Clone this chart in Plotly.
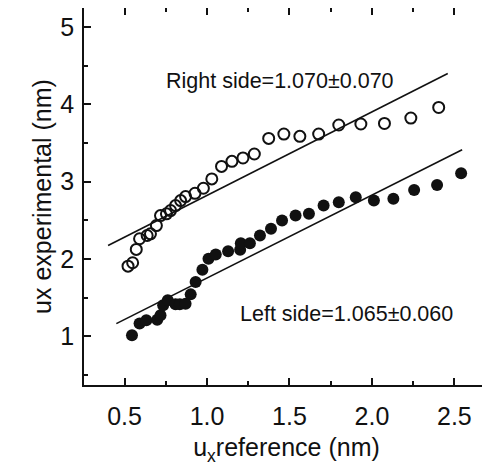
import plotly.graph_objects as go

# Right side (open circles)
right_x = [0.521, 0.549, 0.571, 0.591, 0.637, 0.657, 0.693, 0.718, 0.754, 0.779,
           0.809, 0.840, 0.870, 0.927, 0.978, 1.029, 1.088, 1.151, 1.218, 1.287,
           1.374, 1.466, 1.563, 1.677, 1.799, 1.933, 2.076, 2.236, 2.405]
right_y = [1.907, 1.951, 2.123, 2.261, 2.303, 2.325, 2.432, 2.561, 2.583, 2.626,
           2.690, 2.755, 2.806, 2.849, 2.914, 3.035, 3.197, 3.262, 3.306, 3.357,
           3.559, 3.615, 3.585, 3.615, 3.732, 3.745, 3.752, 3.822, 3.959]

# Left side (filled circles)
left_x = [0.545, 0.591, 0.632, 0.698, 0.718, 0.734, 0.762, 0.809, 0.835, 0.870,
          0.901, 0.931, 0.972, 1.009, 1.053, 1.128, 1.201, 1.205, 1.260, 1.321,
          1.388, 1.455, 1.537, 1.618, 1.707, 1.799, 1.902, 2.012, 2.130, 2.256,
          2.395, 2.541]
left_y = [1.013, 1.164, 1.206, 1.215, 1.271, 1.400, 1.465, 1.413, 1.413, 1.422,
          1.542, 1.701, 1.861, 2.003, 2.058, 2.101, 2.119, 2.204, 2.204, 2.303,
          2.390, 2.497, 2.561, 2.583, 2.690, 2.733, 2.797, 2.755, 2.777, 2.893,
          2.957, 3.107]

# Fit lines
right_fit_x = [0.40, 2.46]
right_fit_y = [2.174, 4.397]
left_fit_x = [0.45, 2.547]
left_fit_y = [1.164, 3.413]

x_tickvals = [0.5, 1.0, 1.5, 2.0, 2.5]
x_ticktext = ["0.5", "1.0", "1.5", "2.0", "2.5"]
y_tickvals = [1, 2, 3, 4, 5]
y_ticktext = ["1", "2", "3", "4", "5"]

FONT = "Liberation Sans, Arial, sans-serif"
INK = "#111111"

fig = go.Figure()
fig.add_trace(go.Scatter(x=right_fit_x, y=right_fit_y, mode="lines",
                         line=dict(color=INK, width=1.6), showlegend=False))
fig.add_trace(go.Scatter(x=left_fit_x, y=left_fit_y, mode="lines",
                         line=dict(color=INK, width=1.6), showlegend=False))
fig.add_trace(go.Scatter(x=right_x, y=right_y, mode="markers",
                         marker=dict(symbol="circle-open", size=11, color=INK,
                                     line=dict(width=2, color=INK)),
                         showlegend=False))
fig.add_trace(go.Scatter(x=left_x, y=left_y, mode="markers",
                         marker=dict(symbol="circle", size=12, color=INK,
                                     line=dict(width=0)),
                         showlegend=False))

fig.add_annotation(x=1.443, y=4.303, text="Right side=1.070±0.070", showarrow=False,
                   font=dict(family=FONT, size=21.5, color=INK))
fig.add_annotation(x=1.846, y=1.293, text="Left side=1.065±0.060", showarrow=False,
                   font=dict(family=FONT, size=21.5, color=INK))

axis_common = dict(showline=True, linewidth=1.5, linecolor=INK, mirror="allticks",
                   ticks="inside", ticklen=7, tickwidth=1.5, tickcolor=INK,
                   showgrid=False, zeroline=False, automargin=False,
                   tickfont=dict(family=FONT, size=25, color=INK))

fig.update_xaxes(range=[0.254, 2.71], tickvals=x_tickvals, ticktext=x_ticktext,
                 minor=dict(dtick=0.25, tick0=0.25, ticks="inside", ticklen=4,
                            tickwidth=1.5, tickcolor=INK, showgrid=False),
                 ticklabelstandoff=8,
                 title=dict(text="u<sub>x</sub>reference (nm)",
                            font=dict(family=FONT, size=25, color=INK), standoff=10),
                 **axis_common)
fig.update_yaxes(range=[0.37, 5.245], tickvals=y_tickvals, ticktext=y_ticktext,
                 minor=dict(dtick=0.5, tick0=0.5, ticks="inside", ticklen=4,
                            tickwidth=1.5, tickcolor=INK, showgrid=False),
                 ticklabelstandoff=3,
                 title=dict(text="ux experimental (nm)",
                            font=dict(family=FONT, size=25, color=INK), standoff=2),
                 **axis_common)

fig.update_layout(width=482, height=467,
                  margin=dict(l=76, r=1, t=0, b=90),
                  paper_bgcolor="white", plot_bgcolor="white")

fig.write_html("out.html")
